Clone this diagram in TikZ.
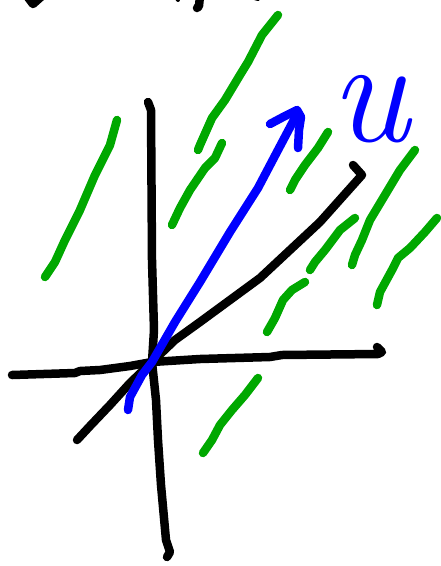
\documentclass[tikz,border=0pt]{standalone}
\usepackage{fontspec}
\usepackage{tikz}
\usetikzlibrary{positioning}
\definecolor{penblue}{RGB}{0,0,255}
\definecolor{pengreen}{RGB}{0,168,0}

\begin{document}
\begin{tikzpicture}[x=1pt, y=-1pt,
  pen/.style={line width=8.5pt, line cap=round, line join=round},
  axis/.style={pen, black},
  hatch/.style={pen, pengreen},
  vec/.style={pen, penblue},
  lbl/.style={text=penblue, font=\fontsize{150}{150}\selectfont\itshape, inner sep=0pt}]
\useasboundingbox (0,0) rectangle (440,566);
% axes
\coordinate (o) at (152,362);
\draw[axis] (148,102) -- (151,110) -- (152,260) -- (154,330) -- (o) -- (156,400)
  -- (158,440) -- (161,485) -- (166,540) -- (170,552) -- (167,557);
\draw[axis] (12,375) -- (75,373) -- (80,371) -- (100,370) -- (130,366) -- (o)
  -- (200,359) -- (270,357) -- (282,355) -- (378,354) -- (382,352) -- (377,347);
\draw[axis] (77,440) -- (90,426) -- (110,405) -- (130,383) -- (o) -- (175,340)
  -- (200,322) -- (230,300) -- (260,278) -- (290,250) -- (320,222) -- (362,175)
  -- (353,165);
% vector u
\coordinate (tail) at (128,410);
\coordinate (tip) at (296,116);
\draw[vec] (tail) -- (130,397) -- (142,375) -- (o) -- (175,322) -- (200,282)
  -- (230,232) -- (258,188) -- (278,150) -- (tip);
\draw[vec] (270,124) -- (285,116) -- (297,110) -- (301,117) -- (299,130) -- (298,148);
\node[lbl, anchor=base] (ulabel) at (370,141) {u};
% green lines
\draw[hatch] (117,120) -- (110,145) -- (95,175) -- (80,210) -- (65,240) -- (55,262) -- (45,277);
\draw[hatch] (278,15) -- (262,35) -- (248,62) -- (240,75) -- (225,100) -- (212,118) -- (200,145) -- (198,150);
\draw[hatch] (222,143) -- (215,158) -- (205,168) -- (190,190) -- (180,208) -- (172,225);
\draw[hatch] (328,132) -- (318,148) -- (305,165) -- (295,180) -- (290,190);
\draw[hatch] (415,150) -- (400,170) -- (385,195) -- (370,220) -- (362,240) -- (355,255) -- (352,265);
\draw[hatch] (355,218) -- (340,230) -- (325,250) -- (315,262) -- (310,270);
\draw[hatch] (305,282) -- (292,290) -- (283,300) -- (275,318) -- (267,332);
\draw[hatch] (437,218) -- (425,232) -- (410,248) -- (398,258) -- (392,270) -- (380,292) -- (377,305);
\draw[hatch] (258,378) -- (245,395) -- (232,410) -- (220,425) -- (212,440) -- (203,453);
% cut-off marks along the top edge
\draw[axis] (27,-4) -- (33,4) -- (42,-4);
\draw[axis] (200,-4) -- (199,6) -- (197,8);
\draw[axis, line width=4pt] (176,-3) -- (178,0);
\draw[axis, line width=4pt] (251,-3) -- (258,-1);
\end{tikzpicture}
\end{document}
